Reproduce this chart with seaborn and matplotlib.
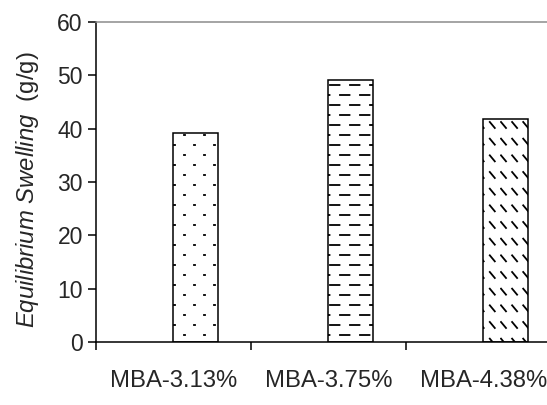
import numpy as np
import pandas as pd
import matplotlib
matplotlib.use("Agg")
import matplotlib.pyplot as plt
import matplotlib.hatch as mhatch
from matplotlib.path import Path
import seaborn as sns

# ----------------------------
# Data
# ----------------------------
samples = ["MBA-3.13%", "MBA-3.75%", "MBA-4.38%"]
swelling = [39.1, 49.2, 41.9]
hatches = [".", "-", "\\"]


# ----------------------------
# Excel-like hatch patterns (dots, short dashes, slanted dashes)
# ----------------------------
class SegmentHatch(mhatch.HatchPatternBase):
    char = None

    def __init__(self, hatch, density):
        self.segs = self.make() if hatch.count(self.char) else []
        self.num_vertices = 2 * len(self.segs)

    def set_vertices_and_codes(self, vertices, codes):
        for i, (a, b) in enumerate(self.segs):
            vertices[2 * i] = a
            vertices[2 * i + 1] = b
            codes[2 * i] = Path.MOVETO
            codes[2 * i + 1] = Path.LINETO


class DotHatch(SegmentHatch):
    char = "."

    def make(self):
        segs = []
        for r in range(10):
            y = 0.05 + r * 0.1
            for c in range(5):
                x = 0.04 + c * 0.2 + (0.1 if r % 2 else 0.0)
                segs.append(((x, y), (x + 0.01, y)))
        return segs


class DashHatch(SegmentHatch):
    char = "-"

    def make(self):
        segs = []
        for r in range(10):
            y = 0.05 + r * 0.1
            for c in range(5):
                x = 0.0 + c * 0.2 + (0.1 if r % 2 else 0.0)
                segs.append(((x, y), (x + 0.095, y)))
        return segs


class SlantHatch(SegmentHatch):
    char = "\\"

    def make(self):
        segs = []
        for r in range(6):
            y = 0.0833 + r * 0.1667
            for c in range(9):
                x = 0.01 + c * 0.111
                segs.append(((x, y + 0.03), (x + 0.05, y - 0.03)))
        return segs


mhatch._hatch_types = [DotHatch, DashHatch, SlantHatch]

# ----------------------------
# Style
# ----------------------------
sns.set_style("white")
plt.rcParams["font.family"] = ["Liberation Sans", "DejaVu Sans"]
plt.rcParams["mathtext.fontset"] = "custom"
plt.rcParams["mathtext.it"] = "Liberation Sans:italic"
plt.rcParams["mathtext.rm"] = "Liberation Sans"
plt.rcParams["hatch.color"] = "black"
plt.rcParams["hatch.linewidth"] = 1.3

df = pd.DataFrame({"sample": samples, "swelling": swelling, "series": "measured"})

fig = plt.figure(figsize=(5.47, 4.05), dpi=100)
ax = fig.add_axes([0.1755, 0.1556, 0.850, 0.790])

sns.barplot(data=df, x="sample", y="swelling", hue="series",
            hue_order=["blank", "measured"],
            palette={"blank": "white", "measured": "white"},
            width=0.57, dodge=True, errorbar=None, saturation=1,
            edgecolor="black", linewidth=1.1, legend=False, ax=ax)

for bar, h in zip(ax.patches, hatches):
    bar.set_hatch(h)

# ----------------------------
# Axes
# ----------------------------
ax.set_xlim(-0.5, 2.5)
ax.set_ylim(0, 60)
ax.set_yticks(np.arange(0, 61, 10))
ax.set_xticks([-0.5, 0.5, 1.5], minor=True)

for side in ["left", "bottom"]:
    ax.spines[side].set_color("black")
    ax.spines[side].set_linewidth(1.1)
ax.spines["top"].set_color("#8c8c8c")
ax.spines["top"].set_linewidth(1.1)
ax.spines["right"].set_visible(False)

ax.tick_params(axis="y", direction="out", length=5.5, width=1.1,
               labelsize=16.5, pad=4, left=True, color="black")
ax.tick_params(axis="x", which="major", length=0, labelsize=17.2, pad=20)
ax.tick_params(axis="x", which="minor", direction="out", length=5.5,
               width=1.1, bottom=True, color="black")

ax.set_xlabel("")
ax.set_ylabel(r"$\it{Equilibrium\ Swelling}$  (g/g)", fontsize=17.2)
ax.yaxis.set_label_coords(-0.118, 0.475)

fig.savefig("out.png", dpi=100)
